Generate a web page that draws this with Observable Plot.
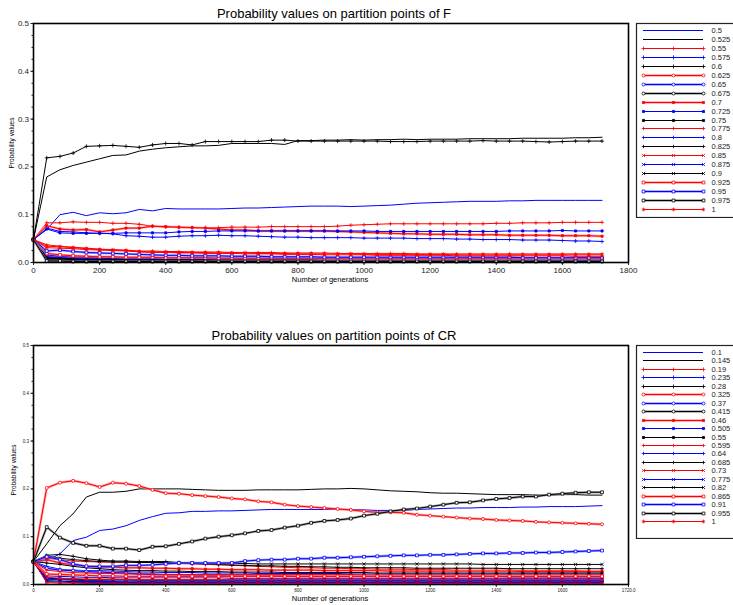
<!DOCTYPE html>
<html><head><meta charset="utf-8">
<script src="https://cdn.jsdelivr.net/npm/d3@7"></script>
<script src="https://cdn.jsdelivr.net/npm/@observablehq/plot@0.6"></script>
<style>
html,body{margin:0;padding:0;background:#fff;}
#root{position:relative;width:733px;height:605px;overflow:hidden;font-family:Arial,"Liberation Sans",Helvetica,sans-serif;color:#000;}
#root svg{position:absolute;}
.t{position:absolute;white-space:nowrap;line-height:1;}
</style></head><body><div id="root"></div>
<script>
// generations 0..1720 step 40 (44 points)
const generations = d3.range(0, 1721, 40);

const F_labels = ["0.5","0.525","0.55","0.575","0.6","0.625","0.65","0.675","0.7","0.725","0.75","0.775","0.8","0.825","0.85","0.875","0.9","0.925","0.95","0.975","1"];
const CR_labels = ["0.1","0.145","0.19","0.235","0.28","0.325","0.37","0.415","0.46","0.505","0.55","0.595","0.64","0.685","0.73","0.775","0.82","0.865","0.91","0.955","1"];

const yTicks = [0, 0.1, 0.2, 0.3, 0.4, 0.5];
const xTicks = [0, 200, 400, 600, 800, 1000, 1200, 1400, 1600, 1800];

// ---- F panel series ----
const f00 = [.048,.069,.100,.105,.098,.104,.102,.104,.111,.108,.113, .112,.112,.112,.112,.113,.114,.114,.115,.116,.117,.118, .118,.118,.117,.118,.119,.120,.122,.124,.125,.126,.127, .128,.128,.128,.129,.129,.130,.130,.130,.130,.130,.130];
const f01 = [.048,.179,.194,.203,.210,.217,.224,.225,.233,.237,.240, .242,.244,.244,.245,.249,.249,.249,.249,.247,.255,.255, .256,.256,.257,.256,.257,.257,.258,.257,.258,.258,.258, .259,.259,.259,.259,.260,.260,.260,.260,.261,.261,.262];
const f02 = [.048,.083,.083,.085,.084,.084,.082,.082,.080,.076,.074, .073,.073,.073,.073,.074,.074,.074,.075,.075,.075,.075, .075,.076,.078,.079,.080,.081,.081,.081,.081,.081,.081, .081,.081,.082,.082,.083,.083,.083,.084,.084,.084,.084];
const f03 = [.048,.072,.065,.064,.062,.061,.060,.056,.055,.053,.053, .055,.056,.056,.057,.056,.056,.055,.054,.053,.053,.052, .052,.052,.052,.051,.051,.051,.051,.050,.050,.050,.049, .049,.048,.048,.048,.047,.047,.047,.046,.045,.045,.044];
const f04 = [.048,.219,.222,.229,.243,.244,.245,.243,.241,.246,.249, .249,.246,.253,.253,.253,.253,.253,.256,.256,.254,.254, .254,.254,.254,.254,.254,.253,.253,.253,.254,.254,.254, .254,.255,.254,.254,.254,.253,.252,.253,.254,.254,.254];
const f05 = [.048,.014,.012,.011,.010,.010,.009,.009,.009,.008,.008, .008,.008,.008,.008,.008,.008,.008,.008,.008,.008,.008, .008,.008,.008,.007,.007,.007,.007,.007,.007,.007,.007, .007,.007,.007,.007,.007,.007,.007,.007,.007,.007,.007];
const f06 = [.048,.016,.013,.012,.011,.010,.010,.009,.009,.009,.009, .009,.009,.009,.008,.008,.008,.008,.008,.008,.008,.008, .008,.008,.008,.008,.008,.008,.008,.008,.008,.008,.008, .008,.008,.008,.008,.008,.008,.008,.008,.008,.008,.008];
const f07 = [.048,.008,.007,.006,.005,.005,.005,.005,.005,.004,.004, .004,.004,.004,.004,.004,.004,.004,.004,.004,.004,.004, .004,.004,.004,.004,.004,.004,.004,.004,.004,.004,.004, .004,.004,.004,.004,.004,.004,.004,.004,.004,.004,.004];
const f08 = [.048,.077,.070,.068,.069,.064,.068,.072,.072,.076,.075, .074,.073,.072,.070,.068,.068,.066,.066,.066,.066,.066, .066,.065,.064,.063,.062,.061,.060,.060,.059,.059,.059, .058,.058,.058,.057,.057,.057,.057,.056,.056,.056,.055];
const f09 = [.048,.070,.062,.061,.061,.061,.061,.062,.062,.062,.062, .064,.065,.065,.066,.066,.066,.066,.066,.066,.066,.066, .066,.066,.066,.066,.065,.065,.065,.065,.065,.065,.065, .065,.065,.065,.066,.066,.066,.066,.067,.066,.066,.066];
const f10 = [.048,.011,.009,.008,.007,.007,.007,.006,.006,.006,.006, .006,.006,.006,.006,.006,.006,.005,.005,.005,.005,.005, .005,.005,.005,.005,.005,.005,.005,.005,.005,.005,.005, .005,.005,.005,.005,.005,.005,.005,.005,.005,.005,.005];
const f11 = [.048,.037,.034,.032,.030,.028,.027,.026,.024,.024,.023, .023,.022,.022,.022,.021,.021,.021,.021,.020,.020,.020, .020,.019,.019,.019,.019,.019,.019,.018,.018,.018,.018, .018,.018,.018,.018,.018,.018,.018,.018,.018,.018,.018];
const f12 = [.048,.012,.010,.009,.008,.008,.008,.007,.007,.007,.007, .007,.007,.007,.007,.006,.006,.006,.006,.006,.006,.006, .006,.006,.006,.006,.006,.006,.006,.006,.006,.006,.006, .006,.006,.006,.006,.006,.006,.006,.006,.006,.006,.006];
const f13 = [.048,.009,.008,.007,.006,.006,.006,.005,.005,.005,.005, .005,.005,.005,.005,.005,.005,.005,.005,.005,.005,.005, .004,.004,.004,.004,.004,.004,.004,.004,.004,.004,.004, .004,.004,.004,.004,.004,.004,.004,.004,.004,.004,.004];
const f14 = [.048,.034,.033,.031,.029,.027,.026,.025,.023,.022,.022, .021,.021,.021,.020,.020,.020,.019,.019,.019,.018,.018, .018,.018,.018,.017,.017,.017,.017,.017,.017,.017,.016, .016,.016,.016,.016,.016,.016,.016,.016,.016,.016,.016];
const f15 = [.048,.005,.004,.004,.003,.003,.003,.003,.003,.003,.003, .003,.003,.003,.003,.003,.003,.003,.003,.003,.003,.003, .003,.003,.003,.003,.003,.003,.003,.003,.003,.003,.003, .003,.003,.003,.003,.003,.003,.003,.003,.003,.003,.003];
const f16 = [.048,.006,.005,.004,.004,.004,.003,.003,.003,.003,.003, .003,.003,.003,.003,.003,.003,.003,.003,.003,.003,.003, .003,.003,.003,.003,.003,.003,.003,.003,.003,.003,.003, .003,.003,.003,.003,.003,.003,.003,.003,.003,.003,.003];
const f17 = [.048,.019,.016,.014,.013,.012,.012,.011,.011,.011,.010, .010,.010,.010,.009,.009,.009,.009,.009,.009,.009,.009, .008,.008,.008,.008,.008,.008,.008,.008,.008,.008,.008, .008,.008,.008,.008,.008,.008,.008,.008,.008,.008,.008];
const f18 = [.048,.024,.026,.023,.021,.020,.019,.018,.017,.016,.015, .015,.014,.014,.014,.013,.013,.013,.012,.012,.012,.012, .011,.011,.011,.011,.011,.011,.011,.011,.011,.011,.011, .011,.011,.011,.011,.010,.010,.010,.010,.010,.010,.010];
const f19 = [.048,.003,.003,.002,.002,.002,.002,.002,.002,.002,.002, .002,.002,.002,.002,.002,.002,.002,.002,.002,.002,.002, .002,.002,.002,.002,.002,.002,.002,.002,.002,.002,.002, .002,.002,.002,.002,.002,.002,.002,.002,.002,.002,.002];
const f20 = [.048,.031,.030,.029,.027,.026,.025,.024,.022,.021,.021, .020,.020,.019,.019,.019,.018,.018,.018,.017,.017,.017, .016,.016,.016,.016,.015,.015,.015,.015,.015,.015,.014, .014,.014,.014,.014,.014,.014,.014,.014,.013,.013,.013];

// ---- CR panel series ----
const c00 = [.048,.050,.064,.092,.099,.113,.116,.123,.134,.142,.149, .150,.153,.153,.154,.154,.155,.156,.157,.157,.157,.157, .157,.157,.157,.156,.155,.155,.155,.157,.158,.159,.160, .160,.161,.161,.161,.162,.162,.163,.163,.163,.164,.165];
const c01 = [.048,.085,.123,.148,.183,.193,.193,.195,.200,.200,.200, .200,.199,.198,.197,.197,.197,.198,.198,.198,.198,.199, .200,.200,.201,.200,.198,.196,.195,.194,.192,.191,.191, .190,.189,.188,.188,.188,.187,.187,.188,.188,.187,.187];
const c02 = [.048,.055,.052,.049,.048,.047,.047,.047,.046,.046,.045, .044,.043,.042,.041,.040,.039,.038,.037,.036,.035,.035, .034,.034,.033,.033,.032,.032,.032,.031,.031,.031,.030, .030,.030,.030,.030,.029,.029,.029,.029,.029,.028,.028];
const c03 = [.048,.038,.032,.030,.029,.029,.028,.027,.026,.026,.025, .025,.025,.024,.024,.024,.024,.023,.023,.023,.023,.023, .023,.023,.022,.022,.022,.022,.022,.022,.022,.022,.022, .022,.022,.022,.022,.022,.022,.022,.022,.022,.022,.022];
const c04 = [.048,.061,.063,.059,.054,.051,.049,.049,.048,.048,.048, .046,.044,.043,.042,.041,.040,.039,.039,.038,.038,.037, .037,.036,.036,.035,.035,.035,.035,.034,.034,.034,.034, .034,.034,.034,.033,.033,.033,.033,.033,.033,.033,.033];
const c05 = [.048,.202,.213,.217,.212,.204,.213,.211,.206,.198,.191, .190,.187,.185,.183,.180,.178,.174,.172,.167,.164,.162, .160,.158,.156,.153,.151,.151,.150,.146,.144,.142,.140, .138,.137,.135,.134,.133,.131,.130,.129,.128,.127,.126];
const c06 = [.048,.034,.030,.029,.027,.026,.025,.024,.022,.021,.020, .020,.019,.019,.019,.018,.018,.018,.018,.018,.017,.017, .017,.017,.017,.017,.017,.017,.017,.017,.017,.017,.017, .017,.017,.017,.016,.016,.016,.016,.016,.016,.016,.016];
const c07 = [.048,.013,.012,.011,.010,.010,.010,.010,.009,.009,.009, .009,.009,.009,.009,.009,.009,.009,.009,.009,.009,.009, .009,.009,.009,.009,.009,.009,.009,.009,.009,.009,.009, .009,.009,.009,.009,.009,.009,.009,.009,.009,.009,.009];
const c08 = [.048,.052,.045,.041,.038,.036,.036,.035,.035,.034,.034, .033,.033,.032,.032,.031,.031,.031,.030,.030,.030,.030, .029,.029,.029,.029,.029,.028,.028,.028,.028,.028,.028, .028,.028,.028,.028,.027,.027,.027,.027,.027,.027,.027];
const c09 = [.048,.018,.017,.016,.015,.015,.014,.014,.014,.014,.014, .014,.014,.014,.014,.013,.013,.013,.013,.013,.013,.013, .013,.013,.013,.013,.013,.013,.013,.013,.013,.013,.013, .013,.013,.013,.013,.013,.013,.013,.013,.013,.013,.013];
const c10 = [.048,.008,.007,.006,.006,.006,.006,.005,.005,.005,.005, .005,.005,.005,.005,.005,.005,.005,.005,.005,.005,.005, .005,.005,.005,.005,.005,.005,.005,.005,.005,.005,.005, .005,.005,.005,.005,.005,.005,.005,.005,.005,.005,.005];
const c11 = [.048,.030,.027,.025,.024,.023,.023,.022,.022,.022,.021, .021,.021,.021,.021,.021,.021,.021,.021,.021,.021,.021, .021,.021,.021,.020,.020,.020,.020,.020,.020,.020,.020, .020,.020,.020,.020,.020,.020,.020,.020,.020,.020,.020];
const c12 = [.048,.011,.010,.009,.008,.008,.007,.007,.007,.007,.007, .007,.007,.007,.007,.007,.007,.007,.007,.007,.007,.007, .007,.007,.007,.007,.007,.007,.007,.007,.007,.007,.007, .007,.007,.007,.007,.007,.007,.007,.007,.007,.007,.007];
const c13 = [.048,.045,.042,.038,.035,.033,.031,.030,.029,.029,.028, .028,.027,.027,.027,.026,.026,.026,.026,.025,.025,.025, .025,.025,.025,.025,.024,.024,.024,.024,.024,.024,.024, .024,.024,.024,.024,.024,.024,.024,.024,.024,.024,.024];
const c14 = [.048,.015,.013,.012,.011,.011,.011,.010,.010,.010,.010, .010,.010,.010,.010,.010,.010,.010,.010,.010,.010,.010, .010,.010,.010,.010,.010,.010,.010,.010,.010,.010,.010, .010,.010,.010,.010,.010,.010,.010,.010,.010,.010,.010];
const c15 = [.048,.006,.005,.004,.004,.004,.004,.004,.004,.004,.004, .004,.004,.004,.004,.004,.004,.004,.004,.004,.004,.004, .004,.004,.004,.004,.004,.004,.004,.004,.004,.004,.004, .004,.004,.004,.004,.004,.004,.004,.004,.004,.004,.004];
const c16 = [.048,.060,.055,.052,.050,.048,.047,.047,.046,.046,.046, .045,.045,.044,.044,.044,.044,.043,.043,.043,.043,.043, .043,.043,.043,.043,.043,.043,.043,.043,.043,.043,.043, .043,.042,.042,.042,.042,.042,.042,.042,.042,.042,.042];
const c17 = [.048,.022,.021,.020,.019,.018,.018,.017,.017,.017,.017, .017,.017,.017,.017,.017,.017,.017,.017,.017,.017,.017, .017,.017,.017,.017,.017,.017,.017,.017,.017,.017,.017, .017,.017,.017,.017,.017,.017,.017,.017,.017,.017,.017];
const c18 = [.048,.058,.052,.043,.038,.038,.038,.040,.040,.041,.043, .045,.045,.045,.045,.045,.049,.051,.052,.052,.054,.054, .056,.056,.057,.058,.059,.060,.061,.061,.062,.062,.063, .064,.065,.065,.066,.066,.067,.067,.068,.069,.070,.071];
const c19 = [.048,.120,.098,.087,.081,.081,.075,.075,.072,.079,.080, .085,.090,.096,.100,.103,.107,.112,.114,.119,.123,.129, .133,.135,.138,.144,.148,.153,.157,.159,.163,.167,.171, .172,.176,.179,.181,.184,.184,.188,.190,.192,.193,.193];
const c20 = [.048,.004,.003,.003,.002,.002,.002,.002,.002,.002,.002, .002,.002,.002,.002,.002,.002,.002,.002,.002,.002,.002, .002,.002,.002,.002,.002,.002,.002,.002,.002,.002,.002, .002,.002,.002,.002,.002,.002,.002,.002,.002,.002,.002];

const F_values = [f00,f01,f02,f03,f04,f05,f06,f07,f08,f09,f10,f11,f12,f13,f14,f15,f16,f17,f18,f19,f20];
const CR_values = [c00,c01,c02,c03,c04,c05,c06,c07,c08,c09,c10,c11,c12,c13,c14,c15,c16,c17,c18,c19,c20];

[...F_values, ...CR_values].forEach((a, i) => { if (a.length !== generations.length) throw new Error("bad length series " + i + ": " + a.length); });

// ---- styles ----
const baseColors = ["#0000ff", "#000000", "#ff0000"];
const haloColors = ["#7f7fff", "#808080", "#ff7f7f"];
const symbols = [null,null,"plus","plus","plus","circle","circle","circle","square","square","square","plus","plus","plus","times","times","times","square","square","square","asterisk"];
const symbolR = [0,0,1.4,1.4,1.4,1.5,1.5,1.5,1.2,1.2,1.2,1.2,1.2,1.2,1.6,1.6,1.6,1.6,1.6,1.6,1.8];
const hollow = new Set([5,6,7,17,18,19]);
const halo = new Set([5,6,7,8,17,18,19]);
const FONT = 'Arial, "Liberation Sans", Helvetica, sans-serif';

function styleFor(i) {
  const sym = symbols[i];
  let fill = "none";
  if (sym === "circle" || sym === "square") fill = hollow.has(i) ? "white" : baseColors[i % 3];
  return {color: baseColors[i % 3], haloColor: haloColors[i % 3], sym, fill, r: symbolR[i]};
}

function seriesMarks(values) {
  const marks = [];
  values.forEach((vals, i) => {
    const s = styleFor(i);
    const pos = {x: (d, k) => generations[k], y: d => d};
    if (halo.has(i)) marks.push(Plot.line(vals, {...pos, stroke: s.haloColor, strokeWidth: 2.4, strokeOpacity: 0.75}));
    marks.push(Plot.line(vals, {...pos, stroke: s.color, strokeWidth: 1}));
    if (s.sym) marks.push(Plot.dot(vals, {...pos, symbol: s.sym, r: s.r, stroke: s.color, fill: s.fill, strokeWidth: 0.8}));
  });
  return marks;
}

function panel({values, height, marginTop, marginBottom, tickFont, xFormat}) {
  return Plot.plot({
    width: 640, height,
    marginLeft: 33, marginRight: 12, marginTop, marginBottom,
    style: {fontFamily: FONT, color: "#222", background: "transparent", overflow: "visible"},
    x: {domain: [0, 1800]},
    y: {domain: [0, 0.5]},
    marks: [
      ...seriesMarks(values),
      Plot.axisY({ticks: d3.range(0, 0.5001, 0.025), tickSize: 1.5, tickFormat: () => "", label: null}),
      Plot.axisY({ticks: yTicks, tickSize: 2.5, tickPadding: 2, tickFormat: d3.format(".1f"), fontSize: tickFont, label: null}),
      Plot.axisX({ticks: xTicks, tickSize: 3, tickPadding: 1.5, tickFormat: xFormat, fontSize: tickFont, label: null}),
      Plot.frame({stroke: "#000", strokeWidth: 1.6})
    ]
  });
}

function legend(labels, height, firstY, stepY) {
  const rowY = labels.map((_, i) => Math.round(firstY + i * stepY));
  const marks = [Plot.frame({stroke: "#222", strokeWidth: 1.2})];
  labels.forEach((lab, i) => {
    const s = styleFor(i);
    const yy = rowY[i];
    if (halo.has(i)) marks.push(Plot.ruleY([yy], {y: d => d, x1: 8, x2: 68, stroke: s.haloColor, strokeWidth: 2.4, strokeOpacity: 0.75}));
    marks.push(Plot.ruleY([yy], {y: d => d, x1: 8, x2: 68, stroke: s.color, strokeWidth: 1}));
    if (s.sym) marks.push(Plot.dot([8, 38, 68], {x: d => d, y: () => yy, symbol: s.sym, r: s.r, stroke: s.color, fill: s.fill, strokeWidth: 0.8}));
    marks.push(Plot.text([lab], {x: 76, y: () => yy, text: d => d, textAnchor: "start", fontSize: 7.5, fill: "#222"}));
  });
  return Plot.plot({
    width: 100, height, margin: 1,
    style: {fontFamily: FONT, background: "transparent"},
    x: {domain: [0, 100], range: [0, 100], axis: null},
    y: {domain: [0, height], range: [0, height], axis: null},
    marks
  });
}

const root = document.getElementById("root");
function place(el, left, top) { el.style.left = left + "px"; el.style.top = top + "px"; root.appendChild(el); }
function text(str, x, y, size, rotate) {
  const d = document.createElement("div");
  d.className = "t";
  d.textContent = str;
  d.style.fontSize = size + "px";
  d.style.left = x + "px";
  d.style.top = y + "px";
  d.style.transform = "translate(-50%,-50%)" + (rotate ? " rotate(-90deg)" : "");
  root.appendChild(d);
}

// top panel (F)
place(panel({values: F_values, height: 290, marginTop: 23, marginBottom: 28, tickFont: 8, xFormat: d => String(d)}), 0, 0);
place(legend(F_labels, 196, 8, 8.95), 635, 22);
text("Probability values on partition points of F", 334, 13, 13, false);
text("Probability values", 12, 143, 6.5, true);
text("Number of generations", 330, 280, 7.5, false);

// bottom panel (CR)
place(panel({values: CR_values, height: 300, marginTop: 45, marginBottom: 16, tickFont: 4.5, xFormat: d => d === 1800 ? "1720.0" : String(d)}), 0, 300);
place(legend(CR_labels, 195, 8, 8.45), 635, 344);
text("Probability values on partition points of CR", 334, 335, 13, false);
text("Probability values", 14, 470, 6.5, true);
text("Number of generations", 330, 599, 7.5, false);
</script></body></html>
